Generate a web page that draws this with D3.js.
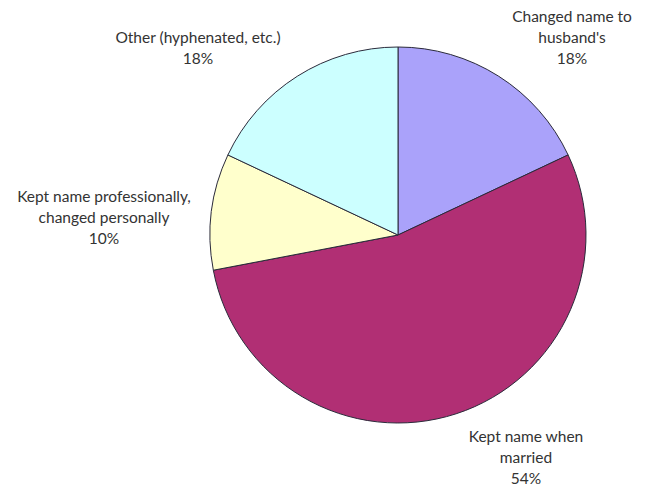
<!DOCTYPE html>
<html>
<head>
<meta charset="utf-8">
<script src="https://cdn.jsdelivr.net/npm/d3@7"></script>
<style>
  body { margin: 0; background: #fff; }
  svg text { font-family: Lato, "Open Sans", sans-serif; fill: #333; }
</style>
</head>
<body>
<svg width="654" height="487"></svg>
<script>
// slices, clockwise from 12 o'clock
const categories = [
  ["Changed name to", "husband's"],
  ["Kept name when", "married"],
  ["Kept name professionally,", "changed personally"],
  ["Other (hyphenated, etc.)"]
];
const values = [18, 54, 10, 18];
const colors = ['#aaa2fa', '#b12f74', '#ffffcc', '#ccffff'];

// where each label block sits (centre x, first baseline y)
const labelPos = [[572, 22], [526, 442], [104, 202], [198, 43]];

const svg = d3.select('svg'),
    cx = 398, cy = 235, radius = 188;

const pie = d3.pie().sort(null).value(d => d);
const arc = d3.arc().innerRadius(0).outerRadius(radius);

const g = svg.append('g').attr('transform', `translate(${cx},${cy})`);

g.selectAll('path')
  .data(pie(values))
  .enter().append('path')
    .attr('d', arc)
    .attr('fill', (d, i) => colors[i])
    .attr('stroke', '#2a2a3a')
    .attr('stroke-width', 1);

const labels = svg.append('g')
  .selectAll('text')
  .data(categories)
  .enter().append('text')
    .attr('text-anchor', 'middle')
    .attr('font-size', 15.5)
    .attr('x', (d, i) => labelPos[i][0])
    .attr('y', (d, i) => labelPos[i][1]);

labels.each(function(d, i) {
  const t = d3.select(this);
  d.concat([values[i] + '%']).forEach((line, j) => {
    t.append('tspan')
      .attr('x', labelPos[i][0])
      .attr('dy', j === 0 ? 0 : 21)
      .text(line);
  });
});
</script>
</body>
</html>
